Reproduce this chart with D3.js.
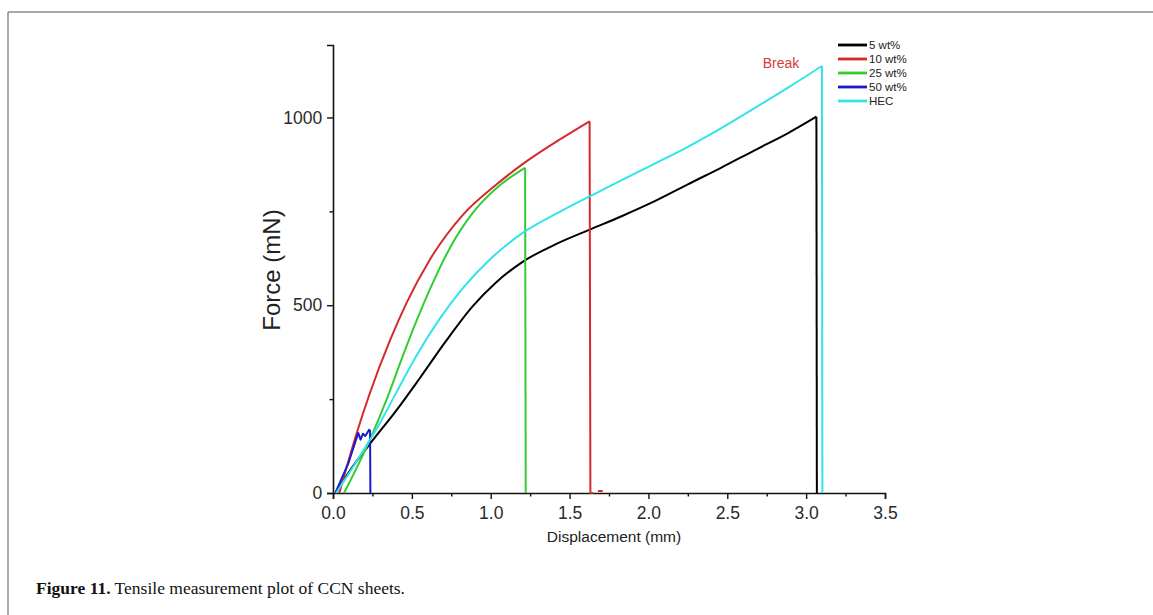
<!DOCTYPE html>
<html><head><meta charset="utf-8">
<script src="https://cdn.jsdelivr.net/npm/d3@7"></script>
<style>
body{margin:0;background:#fff;}
svg{display:block;}
</style></head>
<body>
<svg id="chart" width="1153" height="615"></svg>
<script>
// ---- data ----
const seriesNames = ["5 wt%", "10 wt%", "25 wt%", "50 wt%", "HEC"];
const seriesColors = ["#000000", "#d42a2a", "#33cc33", "#1a1acc", "#33e3ea"];

const x5 = [0.02, 0.10, 0.233, 0.402, 0.549, 0.717, 0.885, 1.032, 1.2, 1.41, 1.62, 1.83, 2.04, 2.25, 2.46, 2.67, 2.88, 3.065, 3.068];
const y5 = [0, 55, 130, 220, 305, 405, 497, 560, 615, 662, 700, 737, 777, 822, 866, 912, 957, 1002, 0];

const x10 = [0.04, 0.15, 0.233, 0.36, 0.465, 0.612, 0.822, 1.032, 1.2, 1.452, 1.627, 1.632, 1.65, null, 1.68, 1.71];
const y10 = [0, 159, 265, 405, 505, 620, 740, 820, 875, 945, 990, 0, 0, null, 5, 5];

const x25 = [0.07, 0.233, 0.339, 0.465, 0.612, 0.738, 0.885, 1.032, 1.15, 1.218, 1.222];
const y25 = [0, 141, 248, 390, 540, 650, 745, 810, 848, 866, 0];

const x50 = [0.015, 0.097, 0.16, 0.175, 0.19, 0.205, 0.228, 0.235, 0.237];
const y50 = [0, 79, 160, 142, 158, 152, 168, 166, 0];

const xHEC = [0.02, 0.191, 0.296, 0.402, 0.528, 0.675, 0.822, 0.99, 1.2, 1.452, 1.684, 1.83, 2.04, 2.25, 2.46, 2.67, 2.88, 3.10, 3.103];
const yHEC = [0, 112, 185, 268, 365, 463, 545, 620, 692, 752, 802, 833, 877, 922, 971, 1024, 1078, 1137, 0];

const xTicks = [0, 0.5, 1.0, 1.5, 2.0, 2.5, 3.0, 3.5];
const xMinor = [0.25, 0.75, 1.25, 1.75, 2.25, 2.75, 3.25];
const yTicks = [0, 500, 1000];
const yMinor = [250, 750];

const xTitle = "Displacement (mm)";
const yTitle = "Force (mN)";
const annotation = "Break";
const captionBold = "Figure 11.";
const captionText = " Tensile measurement plot of CCN sheets.";

// ---- drawing ----
const svg = d3.select("#chart");
const X0 = 333, X1 = 885, Y0 = 493, Y1 = 45;
const x = d3.scaleLinear().domain([0, 3.5]).range([X0, X1]);
const y = d3.scaleLinear().domain([0, 1193]).range([Y0, Y1]);

// frame
svg.append("line").attr("x1", 8).attr("x2", 1153).attr("y1", 12).attr("y2", 12)
  .attr("stroke", "#8c8c8c").attr("stroke-width", 1.5);
svg.append("line").attr("x1", 8).attr("x2", 8).attr("y1", 12).attr("y2", 615)
  .attr("stroke", "#8c8c8c").attr("stroke-width", 1.5);

const font = "'Liberation Sans', Arial, sans-serif";

// axes
const xAxis = svg.append("g").attr("transform", `translate(0,${Y0})`)
  .call(d3.axisBottom(x).tickValues(xTicks).tickFormat(d3.format(".1f")).tickSizeOuter(0).tickSize(6));
const xMin = svg.append("g").attr("transform", `translate(0,${Y0})`)
  .call(d3.axisBottom(x).tickValues(xMinor).tickFormat("").tickSizeOuter(0).tickSize(3.5));
xMin.select(".domain").remove();

const yAxis = svg.append("g").attr("transform", `translate(${X0},0)`)
  .call(d3.axisLeft(y).tickValues(yTicks).tickFormat(d3.format("d")).tickSizeOuter(0).tickSize(6));
const yMin = svg.append("g").attr("transform", `translate(${X0},0)`)
  .call(d3.axisLeft(y).tickValues(yMinor).tickFormat("").tickSizeOuter(0).tickSize(3.5));
yMin.select(".domain").remove();

svg.selectAll(".domain").attr("stroke", "#111").attr("stroke-width", 1.6);
svg.selectAll(".tick line").attr("stroke", "#111").attr("stroke-width", 1.4);
xAxis.selectAll(".tick text").attr("font-family", font).attr("font-size", 17.5).attr("fill", "#2a2a2a").attr("dy", "0.95em");
yAxis.selectAll(".tick text").attr("font-family", font).attr("font-size", 17.5).attr("fill", "#2a2a2a").attr("dx", "-0.1em");

svg.append("text").attr("x", (X0 + X1) / 2 + 5).attr("y", 542).attr("text-anchor", "middle")
  .attr("font-family", font).attr("font-size", 15.5).attr("fill", "#222").text(xTitle);
svg.append("text").attr("transform", `translate(280,270) rotate(-90)`)
  .attr("text-anchor", "middle").attr("font-family", font).attr("font-size", 24).attr("fill", "#222").text(yTitle);

// lines: smooth rising part up to the peak, straight drop after it
const allX = [x5, x10, x25, x50, xHEC];
const allY = [y5, y10, y25, y50, yHEC];
const smooth = d3.line().x(d => x(d[0])).y(d => y(d[1])).curve(d3.curveMonotoneX);
const straight = d3.line().defined(d => d[0] !== null).x(d => x(d[0])).y(d => y(d[1]));

allX.forEach((xs, i) => {
  const pts = xs.map((v, j) => [v, allY[i][j]]);
  const isZig = i === 3;
  let peak = 0;
  pts.forEach((p, j) => { if (p[1] !== null && p[1] > pts[peak][1]) peak = j; });
  const g = svg.append("g").attr("fill", "none").attr("stroke", seriesColors[i])
    .attr("stroke-width", 2).attr("stroke-linejoin", "round");
  if (isZig) {
    g.append("path").attr("d", straight(pts));
  } else {
    g.append("path").attr("d", smooth(pts.slice(0, peak + 1)));
    g.append("path").attr("d", straight(pts.slice(peak)));
  }
});

// annotation
svg.append("text").attr("x", 781).attr("y", 68).attr("text-anchor", "middle")
  .attr("font-family", font).attr("font-size", 14).attr("fill", "#d43a3a").text(annotation);

// legend
const lg = svg.append("g");
seriesNames.forEach((n, i) => {
  const yy = 45 + i * 14;
  lg.append("line").attr("x1", 838).attr("x2", 867).attr("y1", yy).attr("y2", yy)
    .attr("stroke", seriesColors[i]).attr("stroke-width", 2.8);
  lg.append("text").attr("x", 869).attr("y", yy + 4).attr("font-family", font)
    .attr("font-size", 11.5).attr("fill", "#222").text(n);
});

// caption
const cap = svg.append("text").attr("x", 36).attr("y", 594)
  .attr("font-family", "'Liberation Serif', 'Times New Roman', serif").attr("font-size", 17.5).attr("fill", "#111");
cap.append("tspan").attr("font-weight", "bold").text(captionBold);
cap.append("tspan").text(captionText);
</script>
</body></html>
